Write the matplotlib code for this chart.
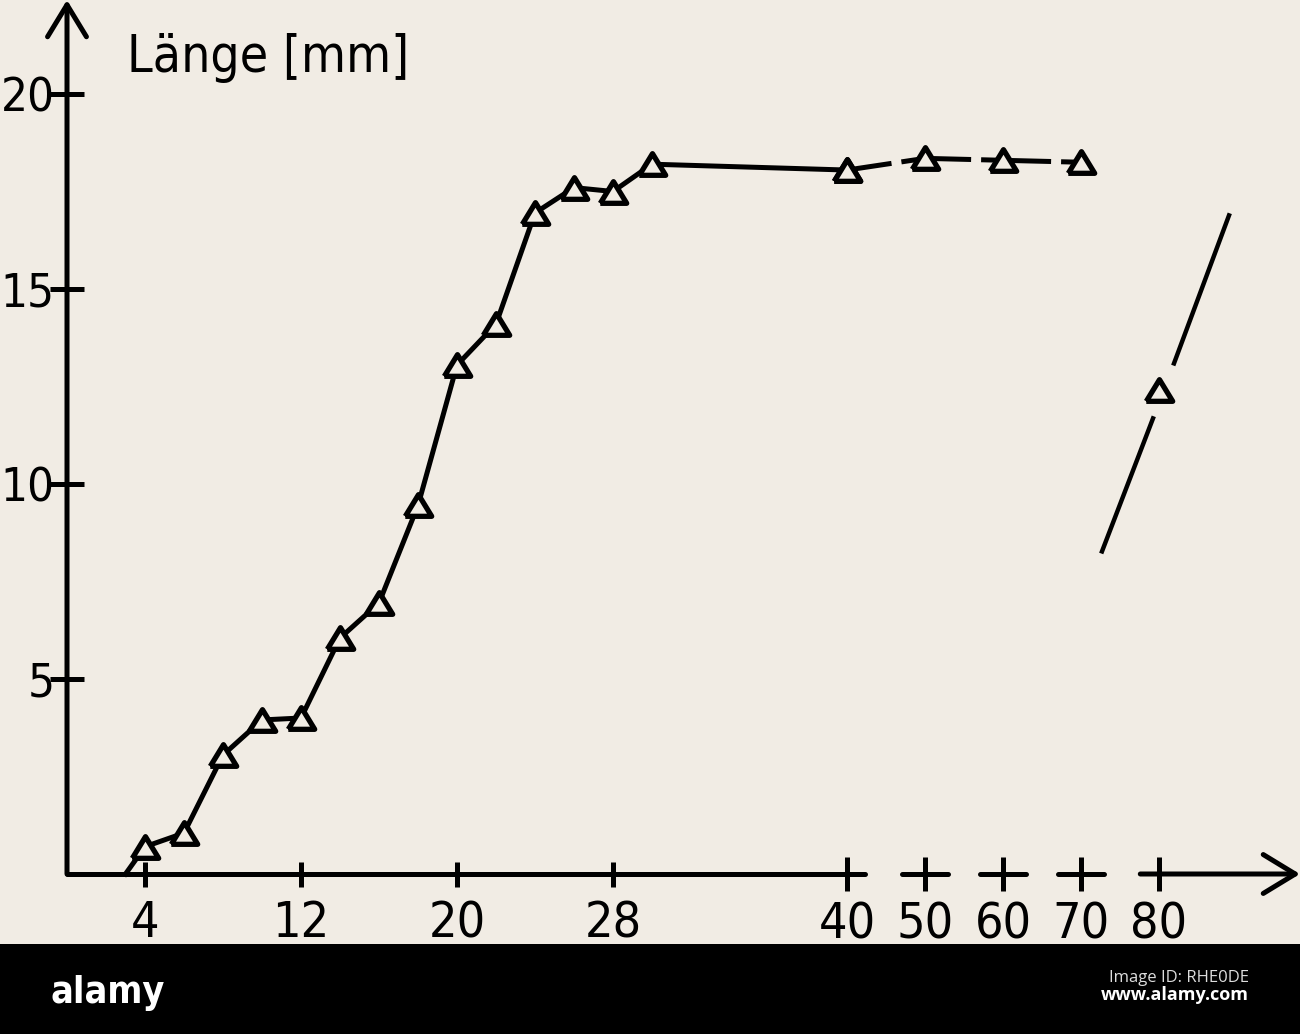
import numpy as np
import matplotlib
matplotlib.use("Agg")
import matplotlib.pyplot as plt
import matplotlib.transforms as mtransforms
from matplotlib.patches import Rectangle

# growth of length (mm) over days
days = [4, 6, 8, 10, 12, 14, 16, 18, 20, 22, 24, 26, 28, 30, 40]
length = [0.7, 1.05, 3.05, 3.95, 4.0, 6.05, 6.95, 9.45, 13.05, 14.1, 16.95, 17.6, 17.5, 18.2, 18.05]
start_day, start_len = 3, 0.0
late_days = [40, 50, 60, 70]
late_length = [18.05, 18.35, 18.3, 18.25]
adult_day, adult_len = 80, 12.4

xticks_major = [4, 12, 20, 28]
xticks_minor = [40, 50, 60, 70, 80]
yticks = [5, 10, 15, 20]
ylabel = "Länge [mm]"

BG = "#f1ece4"
plt.rcParams["font.family"] = ["DejaVu Sans"]
plt.rcParams["font.stretch"] = "condensed"


def fwd(x):
    x = np.asarray(x, dtype=float)
    return np.where(x <= 40, x, 40 + (x - 40) * 0.4)


def inv(u):
    u = np.asarray(u, dtype=float)
    return np.where(u <= 40, u, 40 + (u - 40) / 0.4)


fig = plt.figure(figsize=(13, 10.34), dpi=100, facecolor=BG)
ax = fig.add_axes([67 / 1300, 160 / 1034, 1233 / 1300, 874 / 1034])
ax.set_facecolor(BG)
ax.set_xscale("function", functions=(fwd, inv))
ax.set_xlim(0, float(inv(1233 / 19.5)))
ax.set_ylim(0, 874 / 39)
for s in ax.spines.values():
    s.set_visible(False)

# axes drawn by hand: arrow on y, broken x axis
arrow = dict(arrowstyle="->,head_length=2.3,head_width=1.4", mutation_scale=10,
             lw=3.6, color="black", shrinkA=0, shrinkB=0)
ax.annotate("", xy=(0, 1), xycoords="axes fraction", xytext=(0, 0),
            textcoords="axes fraction", arrowprops=arrow)
ax.plot([0, 42.3], [0, 0], color="black", lw=3.6, clip_on=False, solid_capstyle="round")
for t in xticks_minor[1:-1]:
    ax.plot([t - 3, t + 3], [0, 0], color="black", lw=3.6, clip_on=False,
            solid_capstyle="round")
ax.annotate("", xy=(1, 0), xycoords="axes fraction", xytext=(xticks_minor[-1] - 2.4, 0),
            textcoords="data", arrowprops=arrow)

ax.set_xticks(xticks_major)
ax.set_xticklabels([str(t) for t in xticks_major])
ax.set_xticks(xticks_minor, minor=True)
ax.set_xticklabels([str(t) for t in xticks_minor], minor=True)
ax.set_yticks(yticks)
ax.set_yticklabels([str(t) for t in yticks])
ax.tick_params(axis="x", which="major", direction="inout", length=18, width=3.6,
               pad=9, labelsize=36)
ax.tick_params(axis="x", which="minor", direction="inout", length=24, width=3.6,
               pad=7, labelsize=36)
ax.tick_params(axis="y", direction="inout", length=24, width=3.6, pad=-3, labelsize=34)

tri = [(-1, -0.82), (1, -0.82), (0, 0.82), (-1, -0.82)]
mk = dict(marker=tri, markersize=19, markeredgewidth=3.8, markerfacecolor=BG,
          markeredgecolor="black")

ax.plot([start_day] + days, [start_len] + length, color="black", lw=3.6,
        clip_on=False, zorder=3)
ax.plot(days, length, lw=0, zorder=4, **mk)
ax.plot(late_days, late_length, color="black", lw=3.6, zorder=3,
        linestyle=(5, (14, 2)))
ax.plot(late_days, late_length, lw=0, zorder=4, **mk)
ax.plot([adult_day], [adult_len], lw=0, zorder=4, **mk)

# slash through the last point
tr = fig.dpi_scale_trans + mtransforms.ScaledTranslation(adult_day, adult_len, ax.transData)
ax.plot([0.70, 0.15], [1.75, 0.27], color="black", lw=3.2, transform=tr, clip_on=False)
ax.plot([-0.06, -0.57], [-0.28, -1.61], color="black", lw=3.2, transform=tr, clip_on=False)

ax.text(3.1, 20.56, ylabel, fontsize=37, va="baseline", ha="left")

# stock-photo footer band
fig.add_artist(Rectangle((0, 0), 1, 90 / 1034, transform=fig.transFigure,
                         facecolor="black", edgecolor="none", zorder=10))
fig.text(51 / 1300, 31 / 1034, "alamy", color="white", fontsize=27, fontweight="bold",
         ha="left", va="baseline", zorder=11)
fig.text(1249 / 1300, 52 / 1034, "Image ID: RHE0DE", color="#dddddd", fontsize=12,
         family=["Open Sans", "DejaVu Sans"], stretch="normal", ha="right",
         va="baseline", zorder=11)
fig.text(1249 / 1300, 34 / 1034, "www.alamy.com", color="white", fontsize=13,
         fontweight="bold", family=["Open Sans", "DejaVu Sans"], stretch="normal",
         ha="right", va="baseline", zorder=11)

fig.savefig("out.png", dpi=100, facecolor=BG)
